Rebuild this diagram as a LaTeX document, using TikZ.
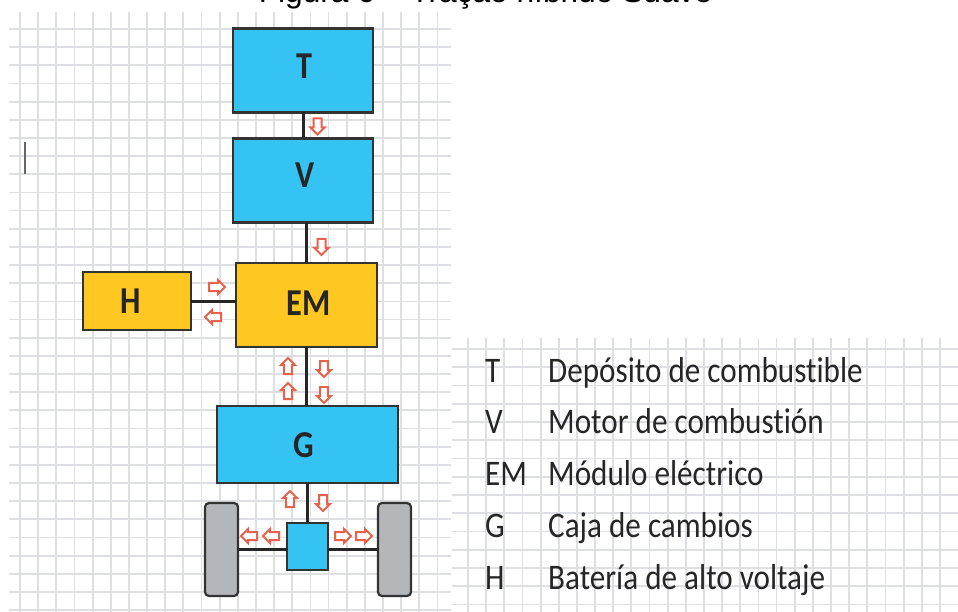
\documentclass[tikz,border=0pt]{standalone}
\usepackage{fontspec}
\usetikzlibrary{shapes.arrows}
\setmainfont{Liberation Sans}
\newfontfamily\legendfont[FakeStretch=0.865, Ligatures=NoCommon]{Carlito}
\newfontfamily\boxfont[FakeStretch=0.85]{Carlito}
\definecolor{boxblue}{HTML}{35C3F4}
\definecolor{boxyellow}{HTML}{FEC722}
\definecolor{wheelgray}{HTML}{B4B7BA}
\definecolor{gridgray}{HTML}{DEDFE2}
\definecolor{arrowred}{HTML}{E8614A}
\definecolor{edgegray}{HTML}{333333}
\tikzset{
  gridline/.style = {gridgray, line width=1.8pt},
  unitbox/.style  = {draw=edgegray, line width=2.2pt, inner sep=0pt, outer sep=0pt},
  unittag/.style  = {anchor=base, inner sep=0pt, text=black!85,
                     font=\boxfont\bfseries\fontsize{38}{38}\selectfont},
  shaft/.style    = {black!85, line width=3pt},
  flow/.style     = {single arrow, draw=arrowred, fill=white, line width=2pt, inner sep=3pt,
                     minimum height=16pt, single arrow head extend=3pt},
  flowup/.style    = {flow, shape border rotate=90},
  flowdown/.style  = {flow, shape border rotate=270},
  flowleft/.style  = {flow, shape border rotate=180},
  flowright/.style = {flow, shape border rotate=0},
  legendtext/.style = {anchor=base west, inner sep=0pt, text=black!85,
                       font=\legendfont\fontsize{36}{36}\selectfont},
}
\begin{document}
\begin{tikzpicture}[x=1pt, y=-1pt]
  \useasboundingbox (0, 0) rectangle (958, 612);
  % squared paper
  \foreach \k in {0, ..., 23}
    \draw[gridline] ({20 + 18.15*\k}, 12) -- ({20 + 18.15*\k}, 612);
  \foreach \k in {0, ..., 32}
    \draw[gridline] (9, {29 + 18.16*\k}) -- (451, {29 + 18.16*\k});
  \foreach \k in {0, ..., 26}
    \draw[gridline] ({468 + 18.15*\k}, 338) -- ({468 + 18.15*\k}, 612);
  \foreach \k in {0, ..., 14}
    \draw[gridline] (452, {349 + 18.25*\k}) -- (958, {349 + 18.25*\k});

  \node[anchor=base, inner sep=0pt, font=\fontsize{31.7}{32}\selectfont] (title) at (485.5, 3)
    {Figura 6 – Tração híbrido Suave};
  \coordinate (cursorA) at (25, 142);
  \coordinate (cursorB) at (25, 174);
  \draw[black!60, line width=1.4pt] (cursorA) -- (cursorB);

  % blocks
  \node[unitbox, fill=boxblue, minimum width=140pt, minimum height=84pt] (tank) at (303, 70.5) {};
  \node[unitbox, fill=boxblue, minimum width=140pt, minimum height=84pt] (engine) at (303, 180.5) {};
  \node[unitbox, fill=boxyellow, minimum width=141pt, minimum height=84pt] (emodule) at (306.5, 305) {};
  \node[unitbox, fill=boxyellow, minimum width=108pt, minimum height=58pt] (battery) at (137, 301) {};
  \node[unitbox, fill=boxblue, minimum width=181pt, minimum height=77pt] (gearbox) at (307.5, 444.5) {};
  \node[unitbox, fill=boxblue, minimum width=41pt, minimum height=47pt] (diff) at (307.5, 546.5) {};
  \node[unitbox, fill=wheelgray, rounded corners=4pt, minimum width=33pt, minimum height=93pt] (wheelL) at (221.5, 549.5) {};
  \node[unitbox, fill=wheelgray, rounded corners=4pt, minimum width=33pt, minimum height=93pt] (wheelR) at (394.5, 549.5) {};
  \node[unittag] (tagT) at (304, 79) {T};
  \node[unittag] (tagV) at (305, 188) {V};
  \node[unittag] (tagEM) at (308.5, 316) {EM};
  \node[unittag] (tagH) at (130.5, 313) {H};
  \node[unittag] (tagG) at (304, 457) {G};

  % shafts
  \draw[shaft] (tank.south) -- (engine.north);
  \draw[shaft] (emodule.north |- engine.south) -- (emodule.north);
  \draw[shaft] (battery.east) -- (battery.east -| emodule.west);
  \draw[shaft] (emodule.south) -- (emodule.south |- gearbox.north);
  \draw[shaft] (gearbox.south) -- (diff.north);
  \draw[shaft] (wheelL.east) -- (wheelL.east -| diff.west);
  \draw[shaft] (wheelR.west) -- (wheelR.west -| diff.east);

  % power flow
  \node[flowdown]  (flowTV) at (317.5, 124.5) {};
  \node[flowdown]  (flowVE) at (321.5, 245) {};
  \node[flowright] (flowHE) at (215, 287) {};
  \node[flowleft]  (flowEH) at (215, 317) {};
  \node[flowup]    (flowGEa) at (288, 368) {};
  \node[flowup]    (flowGEb) at (288, 393) {};
  \node[flowdown]  (flowEGa) at (324, 367) {};
  \node[flowdown]  (flowEGb) at (324, 393) {};
  \node[flowup]    (flowDG) at (290, 501) {};
  \node[flowdown]  (flowGD) at (323, 501) {};
  \node[flowleft]  (flowLa) at (251, 536) {};
  \node[flowleft]  (flowLb) at (273, 536) {};
  \node[flowright] (flowRa) at (341, 536) {};
  \node[flowright] (flowRb) at (362, 536) {};

  % legend
  \node[legendtext] (keyT) at (485, 382) {T};
  \node[legendtext] (keyV) at (485, 433) {V};
  \node[legendtext] (keyEM) at (485, 485) {EM};
  \node[legendtext] (keyG) at (485, 537) {G};
  \node[legendtext] (keyH) at (485, 589) {H};
  \node[legendtext] (nameT) at (548, 382) {Depósito de combustible};
  \node[legendtext] (nameV) at (548, 433) {Motor de combustión};
  \node[legendtext] (nameEM) at (548, 485) {Módulo eléctrico};
  \node[legendtext] (nameG) at (548, 537) {Caja de cambios};
  \node[legendtext] (nameH) at (548, 589) {Batería de alto voltaje};
\end{tikzpicture}
\end{document}
